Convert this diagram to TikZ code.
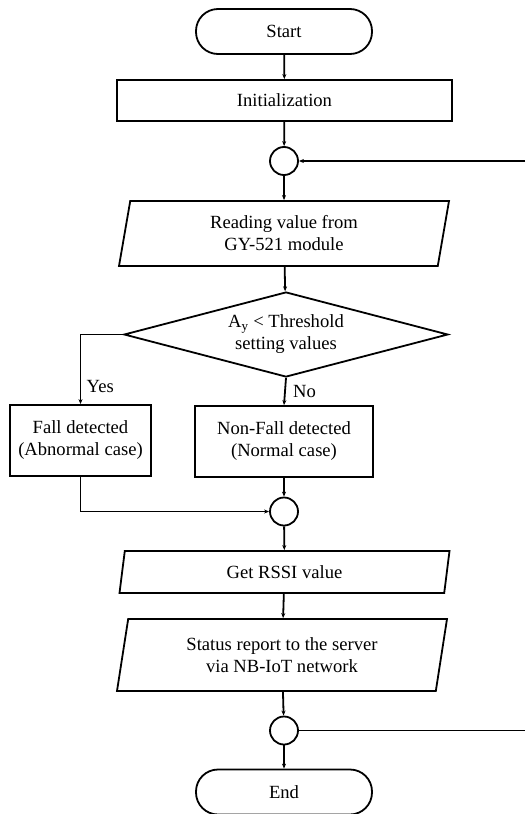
\documentclass[tikz,border=0pt]{standalone}
\usepackage{fontspec}
\setmainfont{Liberation Serif}
\usetikzlibrary{arrows.meta, shapes.geometric}

\begin{document}
\begin{tikzpicture}
	[%
	x=1pt, y=-1pt,%
	every node/.style={font=\fontsize{18.6}{22}\selectfont},%
	terminal/.style={rectangle,	draw, line width=1.8pt,	rounded corners=22pt,	minimum width=176pt,	minimum height=45pt},%
	process/.style ={rectangle,	draw, line width=1.8pt,	minimum width=335pt,	minimum height=41pt},%
	io/.style      ={trapezium,	trapezium left angle=75,	trapezium right angle=105,	trapezium stretches body,	draw, line width=1.8pt,	align=center,	minimum width=330pt},%
	decision/.style={diamond,	draw, line width=1.8pt,	align=center,	aspect=3.8,	minimum width=324pt,	minimum height=85pt,	inner sep=0pt},%
	result/.style  ={rectangle,	draw, line width=1.8pt,	align=center,	minimum height=71pt},%
	joint/.style   ={circle,	draw, line width=1.8pt,	minimum size=28pt,	inner sep=0pt},%
	link/.style    ={line width=1.8pt,	-{Stealth[length=5pt,width=4pt]}},%
	]

	\useasboundingbox (0,0) rectangle (525,814);

	% nodes
	\node (start) at (284,31.5) [terminal] {Start};
	\node (init)  at (284.5,100.5) [process] {Initialization};
	\node (join0) at (284,161) [joint] {};
	\node (read)  at (284,233.5) [io, minimum height=65pt] {Reading value from\\GY-521 module};
	\node (test)  at (286,334.5) [decision] {A\textsubscript{y} < Threshold\\setting values};
	\node (fall)  at (80.5,440.5) [result, minimum width=141pt] {Fall detected\\(Abnormal case)};
	\node (nofall) at (284,441.5) [result, minimum width=178pt] {Non-Fall detected\\(Normal case)};
	\node (join1) at (284,511.5) [joint] {};
	\node (rssi)  at (284.5,572) [io, minimum height=42pt] {Get RSSI value};
	\node (report) at (282,655) [io, minimum height=72pt] {Status report to the server\\via NB-IoT network};
	\node (join2) at (284,730.5) [joint] {};
	\node (stop)  at (284,792) [terminal] {End};

	\coordinate (loopin)  at (525,161);
	\coordinate (loopout) at (525,730.5);

	% interconnections
	\draw [link] (start) -- (init);
	\draw [link] (init) -- (join0);
	\draw [link] (loopin) -- (join0);
	\draw [link] (join0) -- (read);
	\draw [link] (read) -- (test);
	\draw [link] (test.west) -| (fall.north) node [pos=0.87, right=2pt] {Yes};
	\draw [link] (test.south) -- (nofall.north) node [pos=0.5, right=4pt] {No};
	\draw [link] (fall.south) |- (join1);
	\draw [link] (nofall) -- (join1);
	\draw [link] (join1) -- (rssi);
	\draw [link] (rssi) -- (report);
	\draw [link] (report) -- (join2);
	\draw [line width=1.8pt] (join2) -- (loopout);
	\draw [link] (join2) -- (stop);

\end{tikzpicture}
\end{document}
